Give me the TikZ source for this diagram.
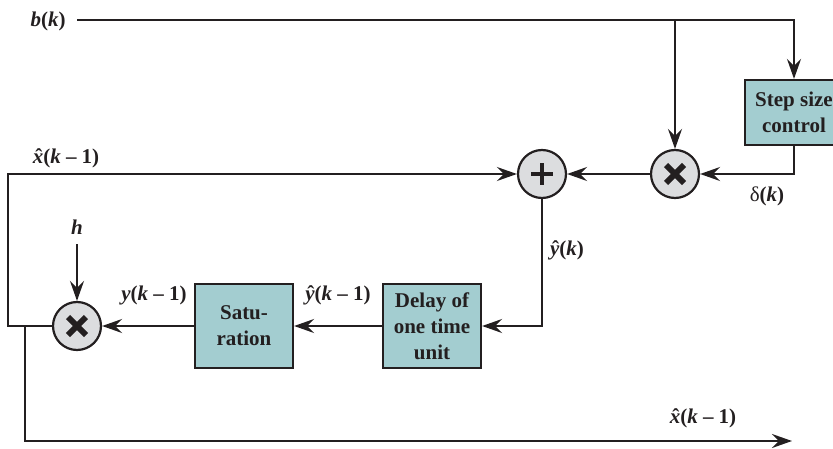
\documentclass[tikz,border=0pt]{standalone}
\usepackage{fontspec}
\setmainfont{Liberation Serif}
\usepackage{tikz}
\usetikzlibrary{arrows.meta, positioning, calc}
\definecolor{ink}{HTML}{231F20}
\definecolor{boxfill}{HTML}{A3CDD0}
\definecolor{junfill}{HTML}{DCDDDF}
\newsavebox{\hatbox}
\newcommand{\hatted}[1]{\sbox{\hatbox}{\textit{#1}}\makebox[\wd\hatbox]{\kern1.5pt ˆ}\kern-\wd\hatbox\usebox{\hatbox}}
\newcommand{\vk}{\textit{k}}
\newcommand{\xhat}{\hatted{x}}
\newcommand{\yhat}{\hatted{y}}

\begin{document}
\begin{tikzpicture}[
  x=1pt, y=1pt,
  font=\fontsize{21}{26}\selectfont\bfseries, text=ink,
  blk/.style={rectangle, draw=ink, fill=boxfill, line width=2.2pt, minimum width=98pt, minimum height=84pt, align=center, inner sep=1pt},
  junc/.style={circle, draw=ink, fill=junfill, line width=2.2pt, minimum size=48pt, inner sep=0pt},
  mul/.style={junc, path picture={\draw[ink, line width=6pt] ($(path picture bounding box.center)+(-9,-9)$) -- +(18,18) ($(path picture bounding box.center)+(-9,9)$) -- +(18,-18);}},
  add/.style={junc, path picture={\draw[ink, line width=4pt] ($(path picture bounding box.center)+(-11,0)$) -- +(22,0) ($(path picture bounding box.center)+(0,-11)$) -- +(0,22);}},
  sig/.style={line width=2.2pt, draw=ink},
  arr/.style={sig, -{Stealth[length=20pt, width=14pt, inset=7pt]}},
  lbl/.style={inner sep=0pt}
]
  \clip (0,0) rectangle (833,448);

  % blocks and junctions
  \node[blk, minimum height=65pt] (step) at (794,335.5) {Step size\\control};
  \node[mul] (mtop) at (675,274) {};
  \node[add] (sum) at (542,274) {};
  \node[mul] (mbot) at (77,122) {};
  \node[blk] (sat) at (244,122) {Satu-\\ration};
  \node[blk] (delay) at (432,122) {Delay of\\one time\\unit};

  % free ends and corners
  \coordinate (bin) at (77,428);
  \coordinate (btap) at (675,428);
  \coordinate (lcorner) at (8,274);
  \coordinate (xtap) at (25,122);
  \coordinate (xout) at (792,7);
  \coordinate (hin) at (77,204);

  % signal lines
  \draw[arr] (bin) -| (step.north);
  \draw[arr] (btap) -- (mtop.north);
  \draw[arr] (step.south) |- (mtop.east);
  \draw[arr] (mtop.west) -- (sum.east);
  \draw[arr] (mbot.west) -| (lcorner) -- (sum.west);
  \draw[arr] (xtap) |- (xout);
  \draw[arr] (sum.south) |- (delay.east);
  \draw[arr] (delay.west) -- (sat.east);
  \draw[arr] (sat.west) -- (mbot.east);
  \draw[arr] (hin) -- (mbot.north);

  % labels
  \node[lbl] (bk) at (48,427) {\textit{b}(\vk)};
  \node[lbl] (xtop) at (66,290) {\xhat(\vk~–~1)};
  \node[lbl] (dk) at (767,251.5) {{\mdseries δ}(\vk)};
  \node[lbl] (hk) at (77,221) {\textit{h}};
  \node[lbl] (ysat) at (154,152.5) {\textit{y}(\vk~–~1)};
  \node[lbl] (ydel) at (338,153) {\yhat(\vk~–~1)};
  \node[lbl] (ysum) at (567,197.5) {\yhat(\vk)};
  \node[lbl] (xbot) at (703,30) {\xhat(\vk~–~1)};
\end{tikzpicture}
\end{document}
